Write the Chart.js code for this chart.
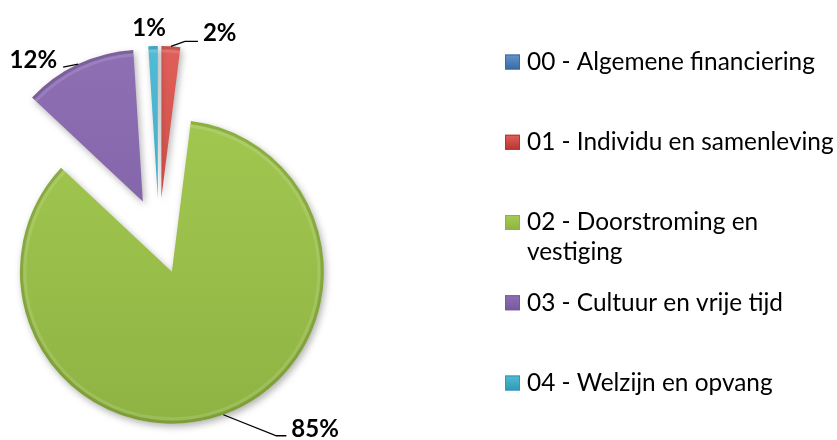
<!DOCTYPE html>
<html>
<head>
  <meta charset="utf-8">
  <title>Verdeling per domein</title>
  <script src="https://cdn.jsdelivr.net/npm/chart.js"></script>
  <style>
    html, body {
      margin: 0;
      padding: 0;
      background: #ffffff;
    }
    .wrap {
      width: 837px;
      height: 440px;
      position: relative;
    }
  </style>
</head>
<body>

<div class="wrap"><canvas id="pieChart"></canvas></div>

<script>
  // data (percent of total)
  const categories = [
    '00 - Algemene financiering',
    '01 - Individu en samenleving',
    '02 - Doorstroming en vestiging',
    '03 - Cultuur en vrije tijd',
    '04 - Welzijn en opvang'
  ];
  const shares = [0, 2, 85, 12, 1];

  // styling
  const sliceColors = ['#4a7ebb', '#d2403b', '#9cc24b', '#8263a8', '#3daac6'];
  const sliceTop    = ['#6494cc', '#e0605a', '#a6cc53', '#8f70b4', '#52bcd6'];
  const sliceBottom = ['#3a6aa3', '#b8332f', '#8fb343', '#76589c', '#2f98b3'];
  const explodeDist = 38;
  const fontFamily = 'Lato, "Open Sans", sans-serif';

  // label leader lines, relative to the outer edge point of each slice
  const labelLayout = [
    null,
    { path: [[14, -5], [27, -5]], tx: 32, ty: -5, align: 'left' },
    { path: [[53, 21], [63, 21]], tx: 68, ty: 22, align: 'left' },
    { path: [[-15, 3]], tx: -21, ty: 4, align: 'right' },
    { path: [], tx: -4, ty: -10, align: 'center' }
  ];

  function fitSize(text, target, weight) {
    const c = document.createElement('canvas').getContext('2d');
    c.font = weight + ' 100px ' + fontFamily;
    return 100 * target / c.measureText(text).width;
  }
  const legendSize = fitSize(categories[1], 307, 'normal');
  const legendFont = 'normal ' + legendSize.toFixed(1) + 'px ' + fontFamily;
  const labelFont = 'bold 24px ' + fontFamily;

  function wrapText(ctx, text, maxW) {
    const words = text.split(' ');
    const lines = [];
    let line = '';
    words.forEach(w => {
      const test = line ? line + ' ' + w : w;
      if (ctx.measureText(test).width > maxW && line) {
        lines.push(line);
        line = w;
      } else {
        line = test;
      }
    });
    lines.push(line);
    return lines;
  }

  const piePlugin = {
    id: 'piePlugin',
    afterDatasetUpdate(chart, args) {
      // explode every slice along its bisector
      const meta = chart.getDatasetMeta(args.index);
      meta.data.forEach(arc => {
        const mid = (arc.startAngle + arc.endAngle) / 2;
        arc.x += Math.cos(mid) * explodeDist;
        arc.y += Math.sin(mid) * explodeDist;
      });
    },
    beforeDatasetsDraw(chart) {
      const ctx = chart.ctx;
      ctx.save();
      ctx.shadowColor = 'rgba(0,0,0,0.3)';
      ctx.shadowBlur = 7;
      ctx.shadowOffsetX = 2;
      ctx.shadowOffsetY = 3;
    },
    afterDatasetsDraw(chart) {
      const ctx = chart.ctx;
      ctx.restore();

      const meta = chart.getDatasetMeta(0);

      // soft bevel along the rim of each slice
      meta.data.forEach(arc => {
        if (arc.endAngle - arc.startAngle <= 0) return;
        ctx.save();
        ctx.beginPath();
        ctx.moveTo(arc.x, arc.y);
        ctx.arc(arc.x, arc.y, arc.outerRadius, arc.startAngle, arc.endAngle);
        ctx.closePath();
        ctx.clip();
        ctx.beginPath();
        ctx.arc(arc.x, arc.y, arc.outerRadius - 1.5, arc.startAngle, arc.endAngle);
        ctx.lineWidth = 3;
        ctx.strokeStyle = 'rgba(0,0,0,0.12)';
        ctx.stroke();
        ctx.beginPath();
        ctx.arc(arc.x, arc.y, arc.outerRadius - 5, arc.startAngle, arc.endAngle);
        ctx.lineWidth = 3;
        ctx.strokeStyle = 'rgba(255,255,255,0.12)';
        ctx.stroke();
        ctx.restore();
      });

      const total = shares.reduce((a, b) => a + b, 0);
      ctx.save();
      ctx.font = labelFont;
      ctx.fillStyle = '#000';
      ctx.strokeStyle = '#000';
      ctx.lineWidth = 1.3;
      ctx.textBaseline = 'alphabetic';
      meta.data.forEach((arc, i) => {
        const lay = labelLayout[i];
        if (!lay || !shares[i]) return;
        const mid = (arc.startAngle + arc.endAngle) / 2;
        const ax = arc.x + Math.cos(mid) * arc.outerRadius;
        const ay = arc.y + Math.sin(mid) * arc.outerRadius;
        if (lay.path.length) {
          ctx.beginPath();
          ctx.moveTo(ax, ay);
          lay.path.forEach(p => ctx.lineTo(ax + p[0], ay + p[1]));
          ctx.stroke();
        }
        ctx.textAlign = lay.align;
        ctx.fillText(Math.round(shares[i] / total * 100) + '%', ax + lay.tx, ay + lay.ty);
      });
      ctx.restore();
    },
    afterDraw(chart) {
      const ctx = chart.ctx;
      const boxX = 505, textX = 527, top = 62, step = 80.25, box = 15;
      ctx.save();
      ctx.font = legendFont;
      ctx.textBaseline = 'middle';
      ctx.textAlign = 'left';
      chart.data.labels.forEach((label, i) => {
        const y = top + i * step;
        const g = ctx.createLinearGradient(0, y - box / 2, 0, y + box / 2);
        g.addColorStop(0, sliceTop[i]);
        g.addColorStop(1, sliceBottom[i]);
        ctx.fillStyle = g;
        ctx.fillRect(boxX, y - box / 2, box, box);
        ctx.strokeStyle = sliceBottom[i];
        ctx.lineWidth = 1;
        ctx.strokeRect(boxX + 0.5, y - box / 2 + 0.5, box - 1, box - 1);
        ctx.fillStyle = '#000';
        wrapText(ctx, label, 837 - textX - 2).forEach((line, k) => {
          ctx.fillText(line, textX, y + k * 30);
        });
      });
      ctx.restore();
    }
  };

  function sliceFill(context) {
    const i = context.dataIndex;
    const area = context.chart.chartArea;
    if (!area) return sliceColors[i];
    const g = context.chart.ctx.createLinearGradient(0, 40, 0, 430);
    g.addColorStop(0, sliceTop[i]);
    g.addColorStop(1, sliceBottom[i]);
    return g;
  }

  const ctx = document.getElementById('pieChart').getContext('2d');
  new Chart(ctx, {
    type: 'pie',
    data: {
      labels: categories,
      datasets: [{
        data: shares,
        backgroundColor: sliceFill,
        borderWidth: 0,
        radius: 152,
        clip: false
      }]
    },
    options: {
      responsive: true,
      maintainAspectRatio: false,
      animation: false,
      layout: { padding: { left: 0, right: 519, top: 32, bottom: 0 } },
      plugins: {
        legend: { display: false },
        tooltip: { enabled: false }
      }
    },
    plugins: [piePlugin]
  });
</script>

</body>
</html>
